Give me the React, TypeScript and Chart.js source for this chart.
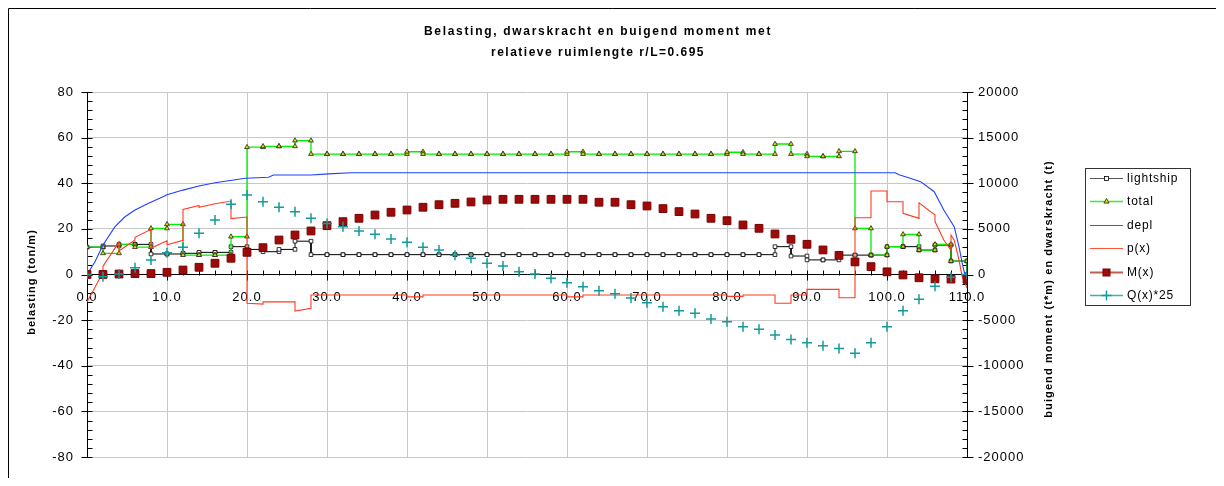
import React, { useEffect, useRef } from 'react';
import { Chart, registerables } from 'chart.js';

Chart.register(...registerables);

// ---------- data ----------
const stations = [0, 2, 4, 6, 8, 10, 12, 14, 16, 18, 20, 22, 24, 26, 28, 30, 32, 34, 36, 38, 40, 42, 44, 46, 48, 50, 52, 54, 56, 58, 60, 62, 64, 66, 68, 70, 72, 74, 76, 78, 80, 82, 84, 86, 88, 90, 92, 94, 96, 98, 100, 102, 104, 106, 108, 110];

// constant value per 2 m segment [stations[i], stations[i+1]]
const lightshipSeg = [12, 12.5, 13.2, 13.2, 9, 9, 9.3, 9.7, 9.7, 12.2, 11, 10, 11, 14.6,
  8.7, 8.7, 8.7, 8.7, 8.7, 8.7, 8.7, 8.7, 8.7, 8.7, 8.7, 8.7, 8.7, 8.7, 8.7, 8.7, 8.7, 8.7, 8.7, 8.7, 8.7, 8.7, 8.7, 8.7, 8.7, 8.7, 8.7, 8.7, 8.7,
  12.2, 8.1, 6.4, 6.4, 8.5, 8.5, 8.5, 12.2, 12.2, 10.7, 12.9, 5.9];

const totalSeg = [12, 9.3, 13.2, 12, 20.2, 22, 8.5, 8.5, 8.5, 16.6,
  55.8, 56.2, 56.2, 58.7,
  52.8, 52.8, 52.8, 52.8, 52.8, 52.8,
  53.8,
  52.8, 52.8, 52.8, 52.8, 52.8, 52.8, 52.8, 52.8, 52.8,
  53.8,
  52.8, 52.8, 52.8, 52.8, 52.8, 52.8, 52.8, 52.8, 52.8,
  53.6, 52.8, 52.8, 57.2, 52.8, 51.8, 51.8, 54, 20.2, 8.5, 12.2, 17.6, 10.7, 13.2, 5.9];

const deplPts: [number, number][] = [
  [0, 0], [1, 5.6], [2, 12.9], [3.5, 21], [4.75, 25.3], [6, 28.3], [7.7, 31.2], [9.5, 34.1], [10, 35],
  [12, 37], [14, 38.8], [16, 40.2], [17.7, 41.1], [19.8, 42.2], [22.7, 42.6], [23.3, 43.6], [28, 43.6],
  [30.2, 44.1], [33, 44.6], [101, 44.6], [101.6, 43.6], [102.9, 42.2], [104.2, 40.7], [105.9, 36.3],
  [107.1, 28.3], [108.4, 21], [109, 12.2], [109.4, 5], [109.7, 0.5], [110, 0]];

const pPts: [number, number][] = [
  [0, -12], [2, 0.9], [2, 3.6], [4, 14.2], [4, 10.3], [6, 15.1], [6, 16.3], [8, 19.8], [8, 11.6],
  [10, 14.8], [10, 13], [12, 15], [12, 28.5], [14, 30.3], [14, 29.5], [16, 31], [18, 32.2], [18, 24.5],
  [20, 25.2], [20, -12.6], [22, -13], [22, -12], [26, -12], [26, -16], [28, -14.8], [28, -9], [40, -9],
  [40, -9.8], [42, -9.8], [42, -9], [60, -9], [60, -9.8], [62, -9.8], [62, -9], [80, -9], [80, -9.6],
  [82, -9.6], [82, -9], [86, -9], [86, -12.6], [88, -12.6], [88, -9], [90, -9], [90, -6.5], [94, -6.5],
  [94, -10.2], [96, -10.2], [96, 24.9], [98, 24.9], [98, 36.6], [100, 36.6], [100, 31.9], [102, 31.9],
  [102, 26.8], [104, 24.6], [104, 31.4], [106, 26.1], [106, 23.2], [107.1, 15.1], [108, 10.5], [108, 17.3],
  [108.4, 15.1], [109, 6.3], [109.4, -0.9], [110, -5.9]];

const momentM = [0, 0, 50, 100, 100, 240, 490, 790, 1230, 1780,
  2430, 2940, 3780, 4330, 4770, 5350, 5790, 6160, 6520, 6820,
  7070, 7370, 7650, 7800, 7950, 8170, 8240, 8240, 8240, 8240,
  8240, 8240, 7920, 7920, 7650, 7510, 7220, 6890, 6630, 6160,
  5900, 5430, 5060, 4440, 3860, 3310, 2690, 2100, 1380, 860,
  290, -50, -360, -470, -500, -540];

const shearQ25 = [0, -240, 50, 750, 1590, 2390, 2980, 4520, 5980, 7700,
  8720, 7980, 7370, 6890, 6160, 5580, 5240, 4770, 4400, 3890,
  3530, 2980, 2690, 2100, 1780, 1230, 930, 310, 50, -420,
  -900, -1340, -1780, -2100, -2580, -3090, -3530, -3970, -4260, -4880,
  -5170, -5720, -6010, -6630, -7110, -7480, -7810, -8100, -8640, -7480,
  -5720, -3970, -2700, -1300, -300, 0];

const TITLE_LINES = ['Belasting, dwarskracht en buigend moment met', 'relatieve ruimlengte r/L=0.695'];
const Y_TITLE = 'belasting (ton/m)';
const Y2_TITLE = 'buigend moment (t*m) en dwarskracht (t)';
const SERIES_NAMES = ['lightship', 'total', 'depl', 'p(x)', 'M(x)', 'Q(x)*25'];

// axis tick setup
const X_MIN = 0, X_MAX = 110, X_MAJOR = 10, X_MINOR = 2;
const Y_MIN = -80, Y_MAX = 80, Y_MAJOR = 20, Y_MINOR = 4;
const Y2_MIN = -20000, Y2_MAX = 20000, Y2_MAJOR = 5000, Y2_MINOR = 1000;

const FONT = '"Liberation Sans", Arial, Helvetica, sans-serif';

function stepPoints(xs: number[], seg: number[]) {
  const pts: { x: number; y: number }[] = [{ x: xs[0], y: 0 }];
  for (let i = 0; i < seg.length; i++) {
    pts.push({ x: xs[i], y: seg[i] });
    pts.push({ x: xs[i + 1], y: seg[i] });
  }
  pts.push({ x: xs[xs.length - 1], y: 0 });
  return pts;
}

const COLORS = {
  lightship: '#000000',
  total: '#00ee00',
  depl: '#2040ff',
  p: '#ff3b1f',
  M: '#9c0a0a',
  Q: '#149a9a',
};

function drawMarker(ctx: CanvasRenderingContext2D, kind: string, x: number, y: number) {
  ctx.save();
  if (kind === 'square') {
    ctx.fillStyle = '#fff';
    ctx.strokeStyle = '#000';
    ctx.lineWidth = 0.8;
    ctx.fillRect(x - 2, y - 2, 4, 4);
    ctx.strokeRect(x - 2, y - 2, 4, 4);
  } else if (kind === 'triangle') {
    ctx.fillStyle = '#e6d800';
    ctx.strokeStyle = '#222';
    ctx.lineWidth = 0.8;
    ctx.beginPath();
    ctx.moveTo(x, y - 3);
    ctx.lineTo(x + 2.6, y + 1.6);
    ctx.lineTo(x - 2.6, y + 1.6);
    ctx.closePath();
    ctx.fill();
    ctx.stroke();
  } else if (kind === 'bigsquare') {
    ctx.fillStyle = COLORS.M;
    ctx.strokeStyle = '#7a0000';
    ctx.lineWidth = 1;
    ctx.fillRect(x - 3.5, y - 3.5, 7, 7);
    ctx.strokeRect(x - 3.5, y - 3.5, 7, 7);
  } else if (kind === 'cross') {
    ctx.strokeStyle = COLORS.Q;
    ctx.lineWidth = 1.5;
    ctx.beginPath();
    ctx.moveTo(x - 5, y);
    ctx.lineTo(x + 5, y);
    ctx.moveTo(x, y - 5);
    ctx.lineTo(x, y + 5);
    ctx.stroke();
  }
  ctx.restore();
}

const axisMarksPlugin = {
  id: 'axisMarks',
  beforeDraw(chart: any) {
    (chart.ctx as any).letterSpacing = '1px';
  },
  beforeDatasetsDraw(chart: any) {
    const { ctx, scales } = chart;
    const xs = scales.x, ys = scales.y, y2s = scales.y2;
    ctx.save();
    ctx.strokeStyle = '#000';
    ctx.lineWidth = 1;
    ctx.beginPath();
    const y0 = Math.round(ys.getPixelForValue(0)) + 0.5;
    for (let v = X_MIN; v <= X_MAX + 1e-9; v += X_MINOR) {
      const px = Math.round(xs.getPixelForValue(v)) + 0.5;
      const major = Math.abs(v % X_MAJOR) < 1e-9;
      ctx.moveTo(px, y0 - 5);
      ctx.lineTo(px, major ? y0 + 5 : y0);
    }
    const lx = Math.round(ys.left + ys.width) + 0.5;
    for (let v = Y_MIN; v <= Y_MAX + 1e-9; v += Y_MINOR) {
      const py = Math.round(ys.getPixelForValue(v)) + 0.5;
      const major = Math.abs(v % Y_MAJOR) < 1e-9;
      ctx.moveTo(major ? lx - 6 : lx, py);
      ctx.lineTo(lx + 5, py);
    }
    const rx = Math.round(y2s.left) + 0.5;
    for (let v = Y2_MIN; v <= Y2_MAX + 1e-9; v += Y2_MINOR) {
      const py = Math.round(y2s.getPixelForValue(v)) + 0.5;
      const major = Math.abs(v % Y2_MAJOR) < 1e-9;
      ctx.moveTo(rx - 5, py);
      ctx.lineTo(major ? rx + 6 : rx, py);
    }
    ctx.stroke();
    ctx.restore();
  },
  afterDraw(chart: any) {
    const ctx: CanvasRenderingContext2D = chart.ctx;
    ctx.save();
    // outer chart border (left & top)
    ctx.strokeStyle = '#000';
    ctx.lineWidth = 1;
    ctx.beginPath();
    ctx.moveTo(0.5, chart.height);
    ctx.lineTo(0.5, 0.5);
    ctx.lineTo(chart.width, 0.5);
    ctx.stroke();

    // title
    ctx.fillStyle = '#000';
    ctx.textAlign = 'center';
    ctx.textBaseline = 'middle';
    ctx.font = `bold 12px ${FONT}`;
    (ctx as any).letterSpacing = '1.7px';
    ctx.fillText(TITLE_LINES[0], 590, 24);
    (ctx as any).letterSpacing = '1.5px';
    ctx.fillText(TITLE_LINES[1], 590, 45);

    // axis titles
    ctx.font = `bold 11px ${FONT}`;
    (ctx as any).letterSpacing = '1px';
    ctx.save();
    ctx.translate(24, 274);
    ctx.rotate(-Math.PI / 2);
    ctx.fillText(Y_TITLE, 0, 0);
    ctx.restore();
    ctx.save();
    (ctx as any).letterSpacing = '1.1px';
    ctx.translate(1041, 281);
    ctx.rotate(-Math.PI / 2);
    ctx.fillText(Y2_TITLE, 0, 0);
    ctx.restore();

    // legend
    const bx = 1077.5, by = 160.5, bw = 105, bh = 137;
    ctx.fillStyle = '#fff';
    ctx.fillRect(bx, by, bw, bh);
    ctx.strokeStyle = '#333';
    ctx.lineWidth = 1;
    ctx.strokeRect(bx, by, bw, bh);
    const items = [
      { line: '#555555', lw: 1.2, marker: 'square' },
      { line: '#33ee33', lw: 1.5, marker: 'triangle' },
      { line: '#3355ff', lw: 1.2, marker: '' },
      { line: '#ff5533', lw: 1.2, marker: '' },
      { line: '#c06050', lw: 1.8, marker: 'bigsquare' },
      { line: '#40b0b0', lw: 1.5, marker: 'cross' },
    ];
    ctx.font = `12px ${FONT}`;
    (ctx as any).letterSpacing = '0.8px';
    ctx.textAlign = 'left';
    items.forEach((it, i) => {
      const y = Math.round(170 + i * 23.4) + 0.5;
      ctx.strokeStyle = it.line;
      ctx.lineWidth = it.lw;
      ctx.beginPath();
      ctx.moveTo(1082, y);
      ctx.lineTo(1115, y);
      ctx.stroke();
      if (it.marker) drawMarker(ctx, it.marker, 1098.5, y);
      ctx.fillStyle = '#000';
      ctx.fillText(SERIES_NAMES[i], 1119, y + 0.5);
    });
    ctx.restore();
  },
};

export default function App() {
  const ref = useRef<HTMLCanvasElement | null>(null);

  useEffect(() => {
    if (!ref.current) return;
    Chart.defaults.font.family = FONT;
    const chart = new Chart(ref.current, {
      type: 'scatter',
      data: {
        datasets: [
          {
            label: SERIES_NAMES[0],
            data: stepPoints(stations, lightshipSeg),
            showLine: true,
            borderColor: COLORS.lightship,
            borderWidth: 1,
            pointStyle: 'rect',
            pointRadius: 2.6,
            pointBackgroundColor: '#ffffff',
            pointBorderColor: '#000000',
            pointBorderWidth: 0.8,
            yAxisID: 'y',
            order: 6,
          },
          {
            label: SERIES_NAMES[1],
            data: stepPoints(stations, totalSeg),
            showLine: true,
            borderColor: COLORS.total,
            borderWidth: 1.3,
            pointStyle: 'triangle',
            pointRadius: 2.8,
            pointBackgroundColor: '#e6d800',
            pointBorderColor: '#222222',
            pointBorderWidth: 0.8,
            yAxisID: 'y',
            order: 5,
          },
          {
            label: SERIES_NAMES[2],
            data: deplPts.map(([x, y]) => ({ x, y })),
            showLine: true,
            borderColor: COLORS.depl,
            borderWidth: 1.1,
            pointRadius: 0,
            yAxisID: 'y',
            order: 4,
          },
          {
            label: SERIES_NAMES[3],
            data: pPts.map(([x, y]) => ({ x, y })),
            showLine: true,
            borderColor: COLORS.p,
            borderWidth: 1.1,
            pointRadius: 0,
            yAxisID: 'y',
            order: 3,
          },
          {
            label: SERIES_NAMES[4],
            data: stations.map((x, i) => ({ x, y: momentM[i] })),
            showLine: false,
            pointStyle: 'rect',
            pointRadius: 5.5,
            pointBackgroundColor: COLORS.M,
            pointBorderColor: '#7a0000',
            pointBorderWidth: 1,
            yAxisID: 'y2',
            order: 2,
          },
          {
            label: SERIES_NAMES[5],
            data: stations.map((x, i) => ({ x, y: shearQ25[i] })),
            showLine: false,
            pointStyle: 'cross',
            pointRadius: 5,
            pointBorderColor: COLORS.Q,
            pointBorderWidth: 1.5,
            yAxisID: 'y2',
            order: 1,
          },
        ] as any,
      },
      options: {
        animation: false,
        responsive: false,
        events: [],
        layout: { padding: { top: 84, bottom: 21, left: 0, right: 0 } },
        plugins: {
          legend: { display: false },
          title: { display: false },
          tooltip: { enabled: false },
        },
        scales: {
          x: {
            type: 'linear',
            min: X_MIN,
            max: X_MAX,
            position: { y: 0 } as any,
            ticks: {
              stepSize: X_MAJOR,
              autoSkip: false,
              maxRotation: 0,
              padding: 15,
              color: '#000',
              font: { size: 13, family: FONT },
              callback: (v: any) => Number(v).toFixed(1),
            },
            grid: { color: '#c8c8c8', drawTicks: false },
            border: { color: '#000', width: 1 },
          },
          y: {
            type: 'linear',
            position: 'left',
            min: Y_MIN,
            max: Y_MAX,
            ticks: {
              stepSize: Y_MAJOR,
              padding: 13,
              color: '#000',
              font: { size: 13, family: FONT },
              callback: (v: any) => String(v),
            },
            grid: { color: '#c8c8c8', drawTicks: false },
            border: { color: '#000', width: 1 },
            afterFit: (s: any) => { s.width = 79; },
          },
          y2: {
            type: 'linear',
            position: 'right',
            min: Y2_MIN,
            max: Y2_MAX,
            ticks: {
              stepSize: Y2_MAJOR,
              padding: 11,
              color: '#000',
              font: { size: 13, family: FONT },
              callback: (v: any) => String(v),
            },
            grid: { display: false, drawTicks: false },
            border: { color: '#000', width: 1 },
            afterFit: (s: any) => { s.width = 249; },
          },
        },
      } as any,
      plugins: [axisMarksPlugin],
    });
    return () => chart.destroy();
  }, []);

  return (
    <div style={{ width: 1208, height: 470 }}>
      <canvas ref={ref} width={1208} height={470} style={{ display: 'block' }} />
    </div>
  );
}
